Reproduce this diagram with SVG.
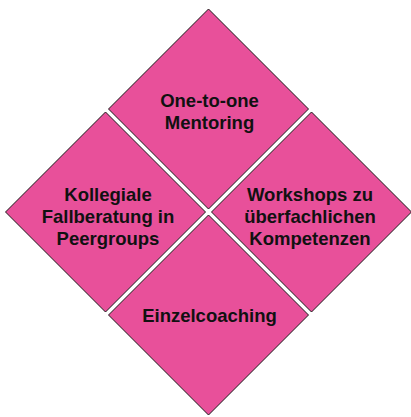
<svg xmlns="http://www.w3.org/2000/svg" width="411" height="417" viewBox="0 0 411 417">
  <style>
    .tile { fill: #E8509A; stroke: #1a1a1a; stroke-width: 1; }
    .label { font-family: "Liberation Sans", Arial, sans-serif; font-weight: bold; font-size: 18.5px; fill: #111; text-anchor: middle; }
  </style>
  <defs>
    <!-- rotated square, half-diagonal 100 -->
    <polygon id="diamond" points="0,-100 100,0 0,100 -100,0"/>
  </defs>
  <rect width="411" height="417" fill="#fff"/>

  <g id="node-mentoring">
    <use href="#diamond" class="tile" x="208.5" y="109"/>
    <text class="label" x="209.5" y="107">One-to-one</text>
    <text class="label" x="209.5" y="129">Mentoring</text>
  </g>

  <g id="node-peergroups">
    <use href="#diamond" class="tile" x="105.5" y="212"/>
    <text class="label" x="108" y="201">Kollegiale</text>
    <text class="label" x="108" y="223">Fallberatung in</text>
    <text class="label" x="108" y="245">Peergroups</text>
  </g>

  <g id="node-workshops">
    <use href="#diamond" class="tile" x="311.5" y="212"/>
    <text class="label" x="310" y="201">Workshops zu</text>
    <text class="label" x="310" y="223">überfachlichen</text>
    <text class="label" x="310" y="245">Kompetenzen</text>
  </g>

  <g id="node-coaching">
    <use href="#diamond" class="tile" x="208.5" y="315"/>
    <text class="label" x="209.5" y="322">Einzelcoaching</text>
  </g>

  <g id="connectors"/>
</svg>
